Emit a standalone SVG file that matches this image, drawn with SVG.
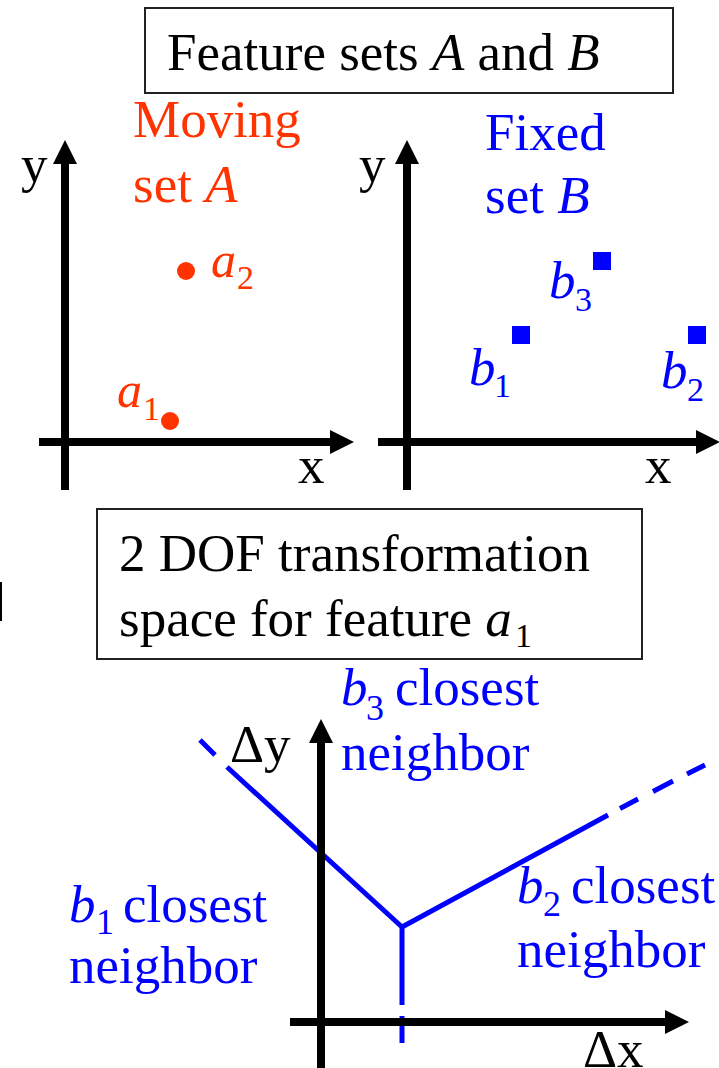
<svg xmlns="http://www.w3.org/2000/svg" width="719" height="1068" viewBox="0 0 719 1068">
  <style>
    text { font-family: "Liberation Serif", "Times New Roman", serif; font-size: 53px; }
    .it { font-style: italic; }
    .sub { font-size: 34px; font-style: normal; }
    .red { fill: #ff3300; }
    .blue { fill: #0000ff; }
    .ink { fill: #000000; }
    .box { fill: #ffffff; stroke: #222222; stroke-width: 2; }
    .axis { stroke: #000000; stroke-width: 8; fill: none; marker-end: url(#head); }
    .edge { stroke: #0000ff; stroke-width: 5; fill: none; stroke-linecap: butt; }
    .pt-b { fill: #0000ff; }
    .pt-a { fill: #ff3300; }
  </style>
  <defs>
    <marker id="head" markerUnits="userSpaceOnUse" viewBox="0 0 24 24" markerWidth="24" markerHeight="24" refX="1" refY="12" orient="auto">
      <path d="M0,0 L24,12 L0,24 Z" fill="#000000"/>
    </marker>
  </defs>

  <rect width="719" height="1068" fill="#ffffff"/>

  <!-- title -->
  <g id="title">
    <rect class="box" x="145" y="8" width="528" height="85"/>
    <text x="167" y="70" class="ink">Feature sets <tspan class="it">A</tspan> and <tspan class="it">B</tspan></text>
  </g>

  <!-- left plot: moving set A -->
  <g id="plot-a">
    <line class="axis" x1="65" y1="490" x2="65" y2="163"/>
    <line class="axis" x1="39" y1="442" x2="331" y2="442"/>
    <text x="21" y="182" class="ink">y</text>
    <text x="298" y="483" class="ink">x</text>
    <text x="133" y="137" class="red">Moving</text>
    <text x="133" y="202" class="red">set <tspan class="it">A</tspan></text>
  </g>
  <g id="a2">
    <circle class="pt-a" cx="186" cy="271" r="9"/>
    <text x="211" y="277" class="red it" style="font-size:50px">a</text>
    <text x="237" y="289" class="red sub">2</text>
  </g>
  <g id="a1">
    <circle class="pt-a" cx="170" cy="421" r="9"/>
    <text x="117" y="407" class="red it" style="font-size:50px">a</text>
    <text x="143" y="420" class="red sub">1</text>
  </g>

  <!-- right plot: fixed set B -->
  <g id="plot-b">
    <line class="axis" x1="407" y1="490" x2="407" y2="163"/>
    <line class="axis" x1="378" y1="442" x2="697" y2="442"/>
    <text x="359" y="182" class="ink">y</text>
    <text x="645" y="483" class="ink">x</text>
    <text x="485" y="150" class="blue">Fixed</text>
    <text x="485" y="213" class="blue">set <tspan class="it">B</tspan></text>
  </g>
  <g id="b3">
    <rect class="pt-b" x="593" y="252" width="18" height="18"/>
    <text x="549" y="298" class="blue it">b</text>
    <text x="575" y="311" class="blue sub">3</text>
  </g>
  <g id="b1">
    <rect class="pt-b" x="512" y="326" width="18" height="18"/>
    <text x="469" y="385" class="blue it">b</text>
    <text x="494" y="397" class="blue sub">1</text>
  </g>
  <g id="b2">
    <rect class="pt-b" x="688" y="326" width="18" height="18"/>
    <text x="661" y="388" class="blue it">b</text>
    <text x="687" y="401" class="blue sub">2</text>
  </g>

  <!-- stray rule at the left margin -->
  <rect x="0" y="582" width="2" height="39" fill="#000000"/>

  <!-- transformation space caption -->
  <g id="caption">
    <rect class="box" x="97" y="509" width="545" height="150"/>
    <text x="119" y="571" class="ink">2 DOF transformation</text>
    <text x="119" y="636" class="ink">space for feature <tspan class="it">a</tspan></text>
    <text x="515" y="647" class="ink sub">1</text>
  </g>

  <!-- region boundaries in transformation space -->
  <g id="connectors">
    <line class="edge" x1="200" y1="740" x2="215" y2="755"/>
    <line class="edge" x1="227" y1="767" x2="402" y2="927"/>
    <line class="edge" x1="402" y1="927" x2="608" y2="815"/>
    <line class="edge" x1="620" y1="808.5" x2="638" y2="799"/>
    <line class="edge" x1="653" y1="791.5" x2="673" y2="781"/>
    <line class="edge" x1="687" y1="774" x2="705" y2="765"/>
    <line class="edge" x1="402" y1="925" x2="402" y2="1005"/>
    <line class="edge" x1="402" y1="1016" x2="402" y2="1043"/>
  </g>

  <!-- transformation space axes -->
  <g id="plot-dxdy">
    <line class="axis" x1="321" y1="1068" x2="321" y2="742"/>
    <line class="axis" x1="290" y1="1022" x2="666" y2="1022"/>
    <text x="230" y="762" class="ink">Δy</text>
    <text x="583" y="1067" class="ink">Δx</text>
  </g>

  <g id="region-b3">
    <text x="341" y="705" class="blue it">b</text>
    <text x="366" y="720" class="blue sub" style="font-size:36px">3</text>
    <text x="395" y="705" class="blue">closest</text>
    <text x="341" y="770" class="blue">neighbor</text>
  </g>
  <g id="region-b1">
    <text x="69" y="922" class="blue it">b</text>
    <text x="96" y="934" class="blue sub" style="font-size:36px">1</text>
    <text x="123" y="922" class="blue">closest</text>
    <text x="69" y="983" class="blue">neighbor</text>
  </g>
  <g id="region-b2">
    <text x="517" y="903" class="blue it">b</text>
    <text x="543" y="916" class="blue sub" style="font-size:36px">2</text>
    <text x="571" y="903" class="blue">closest</text>
    <text x="517" y="967" class="blue">neighbor</text>
  </g>
</svg>
